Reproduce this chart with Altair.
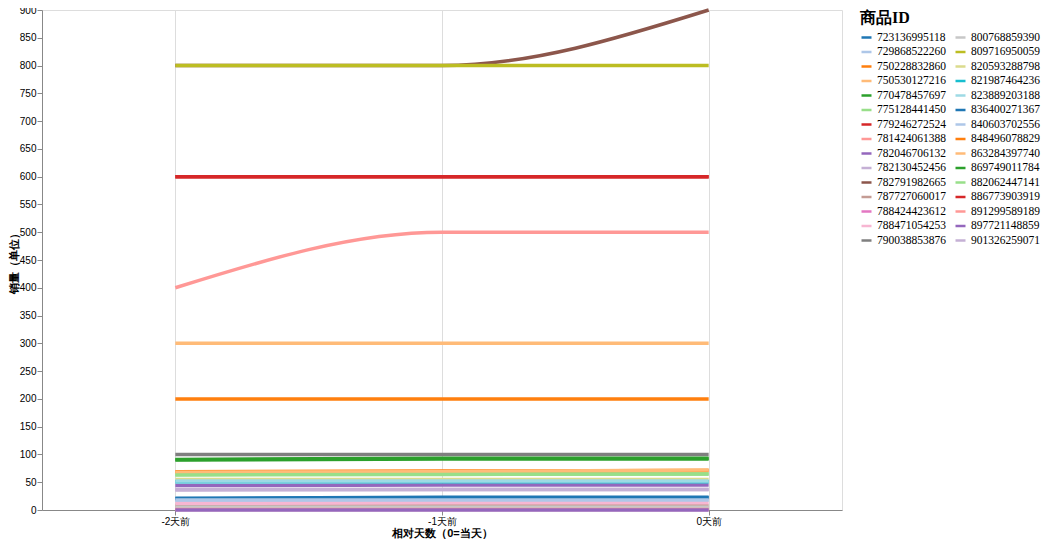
import altair as alt
import pandas as pd

days = [-2, -1, 0]
ids = [
    "723136995118", "729868522260", "750228832860", "750530127216", "770478457697",
    "775128441450", "779246272524", "781424061388", "782046706132", "782130452456",
    "782791982665", "787727060017", "788424423612", "788471054253", "790038853876",
    "800768859390", "809716950059", "820593288798", "821987464236", "823889203188",
    "836400271367", "840603702556", "848496078829", "863284397740", "869749011784",
    "882062447141", "886773903919", "891299589189", "897721148859", "901326259071",
]
sales = [
    [20, 22, 22],
    [17, 18, 18],
    [200, 200, 200],
    [300, 300, 300],
    [90, 92, 92],
    [64, 65, 65],
    [600, 600, 600],
    [400, 500, 500],
    [44, 45, 45],
    [36, 37, 37],
    [800, 800, 900],
    [8, 8, 8],
    [2, 2, 2],
    [12, 13, 13],
    [100, 100, 100],
    [5, 5, 5],
    [800, 800, 800],
    [55, 55, 55],
    [51, 51, 51],
    [52, 52, 52],
    [21, 23, 23],
    [18, 18, 18],
    [69, 70, 71],
    [68, 69, 72],
    [91, 93, 93],
    [63, 64, 65],
    [600, 600, 600],
    [1, 1, 1],
    [0, 0, 0],
    [37, 37, 37],
]

rows = []
for pid, vals in zip(ids, sales):
    for d, v in zip(days, vals):
        rows.append({"商品ID": pid, "相对天数": d, "销量": v})
df = pd.DataFrame(rows)

chart = alt.Chart(df).mark_line(strokeWidth=3.5, interpolate="monotone").encode(
    x=alt.X("相对天数:Q",
            scale=alt.Scale(domain=[-2.5, 0.5], nice=False),
            axis=alt.Axis(title="相对天数（0=当天）", values=[-2, -1, 0],
                          labelExpr="datum.value + '天前'", grid=True,
                          titleFontSize=11, labelPadding=1, titlePadding=1)),
    y=alt.Y("销量:Q",
            scale=alt.Scale(domain=[0, 900], nice=False),
            axis=alt.Axis(title="销量（单位）", values=list(range(0, 901, 50)),
                          grid=False, titleFontSize=11, labelPadding=1,
                          titlePadding=0)),
    color=alt.Color("商品ID:N",
                    scale=alt.Scale(scheme="category20"),
                    legend=alt.Legend(columns=2, symbolType="stroke",
                                      labelFont="Liberation Serif", labelFontSize=11.5,
                                      titleFont="Liberation Serif", titleFontSize=16,
                                      symbolStrokeWidth=2.5, columnPadding=4,
                                      rowPadding=2.5)),
).properties(
    width=800, height=500,
    autosize=alt.AutoSizeParams(type="none"),
    padding={"left": 34, "top": 2, "right": 200, "bottom": 29},
)

chart.save("out.html", embed_options={"renderer": "svg", "actions": False})
